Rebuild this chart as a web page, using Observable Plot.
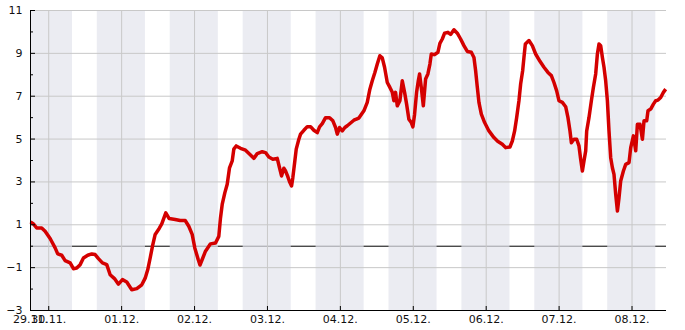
<!DOCTYPE html>
<html>
<head>
<meta charset="utf-8">
<script src="https://cdn.jsdelivr.net/npm/d3@7"></script>
<script src="https://cdn.jsdelivr.net/npm/@observablehq/plot@0.6"></script>
<style>
  html, body { margin: 0; padding: 0; background: #fff; }
  #chart svg { display: block; }
</style>
</head>
<body>
<div id="chart"></div>
<script>
// Hours since 30.11. 00:00 (UTC used for display)
const hours = [-6.0,-5.04,-3.95,-2.31,-1.19,0.46,2.11,2.96,4.28,5.40,7.05,8.13,9.22,10.34,11.43,12.84,14.16,15.28,16.37,17.68,19.10,20.22,21.64,22.95,24.27,25.69,27.33,28.98,30.63,31.75,32.60,33.39,34.15,35.04,36.36,37.21,38.53,39.65,41.63,43.27,44.92,46.10,47.22,48.08,49.20,49.79,50.52,51.60,53.25,54.90,55.98,56.54,57.10,57.96,58.75,59.51,60.40,60.92,61.71,63.13,64.78,66.42,67.51,68.63,70.28,71.36,72.45,73.77,75.22,75.97,76.63,77.39,77.95,78.61,79.27,79.93,80.35,81.01,81.47,82.33,82.89,83.98,85.10,86.18,87.27,88.39,89.15,90.04,91.12,92.44,93.53,94.42,94.98,95.73,96.62,97.48,98.27,100.44,102.09,103.74,104.85,105.71,106.50,107.36,108.15,109.00,109.79,110.55,111.44,112.30,113.09,113.61,114.17,114.73,115.59,116.38,117.14,117.80,118.55,119.34,119.87,120.43,121.09,121.65,122.08,122.64,123.30,124.05,124.81,125.47,125.93,127.02,128.10,128.76,129.55,130.31,131.40,132.29,133.38,134.49,135.58,136.67,137.79,139.10,139.97,140.52,141.08,141.61,142.40,143.48,144.90,146.55,147.77,149.31,150.40,151.81,152.60,153.36,154.02,154.78,155.34,156.00,156.43,156.89,158.07,159.19,160.28,161.70,163.02,164.33,165.45,166.31,167.20,167.95,169.07,170.16,170.92,171.58,172.04,172.90,173.78,174.54,175.10,175.66,176.19,176.75,177.08,177.83,178.62,179.28,180.04,180.60,181.13,181.69,182.25,182.78,183.33,183.89,184.42,184.98,185.54,186.07,186.63,187.19,187.72,188.27,189.16,189.92,191.01,191.57,192.46,193.21,193.77,194.63,195.42,195.95,196.83,197.26,198.15,199.04,199.79,200.55,201.44,202.33,203.09];
const temps = [1.14,1.04,0.85,0.85,0.70,0.36,-0.08,-0.36,-0.42,-0.67,-0.78,-1.05,-1.02,-0.86,-0.55,-0.42,-0.36,-0.39,-0.58,-0.78,-0.86,-1.33,-1.51,-1.77,-1.56,-1.67,-2.03,-1.98,-1.80,-1.49,-1.09,-0.55,0.0,0.55,0.83,1.04,1.56,1.29,1.25,1.20,1.20,0.93,0.55,-0.08,-0.62,-0.88,-0.62,-0.23,0.11,0.15,0.46,1.32,1.95,2.49,2.89,3.66,3.98,4.53,4.68,4.57,4.48,4.26,4.10,4.32,4.41,4.37,4.16,4.06,4.10,3.66,3.28,3.64,3.51,3.28,3.01,2.81,3.20,3.98,4.53,4.99,5.23,5.41,5.58,5.58,5.41,5.30,5.57,5.72,6.00,6.00,5.85,5.54,5.23,5.54,5.38,5.54,5.62,5.88,5.98,6.32,6.71,7.33,7.72,8.11,8.50,8.89,8.79,8.35,7.64,7.41,7.18,6.79,7.18,6.55,6.79,7.72,7.18,6.63,5.93,5.77,5.57,6.16,7.18,7.72,8.04,7.41,6.55,7.80,8.04,8.50,8.97,8.94,9.05,9.47,9.67,9.94,9.98,9.88,10.10,9.94,9.67,9.36,9.09,9.05,8.81,8.19,7.41,6.71,6.16,5.77,5.38,5.07,4.90,4.76,4.60,4.63,4.91,5.38,6.00,6.79,7.57,8.19,8.81,9.44,9.60,9.36,8.97,8.63,8.35,8.11,7.96,7.64,7.25,6.79,6.71,6.51,6.00,5.38,4.83,4.99,4.99,4.68,4.06,3.51,3.98,4.45,5.38,6.00,6.79,7.41,8.04,8.97,9.44,9.36,8.81,8.35,7.72,6.79,5.38,4.13,3.66,3.35,2.42,1.64,2.26,3.04,3.51,3.82,3.90,4.60,5.15,4.45,5.69,5.69,4.99,5.85,5.85,6.32,6.40,6.63,6.79,6.82,6.94,7.18,7.33];

// Night (shaded) periods: start hour (since 30.11. 00:00) and length in hours
const nightStarts = [-8, 16, 40, 64, 88, 112, 136, 160, 184];
const nightLength = 15.83;

// Axis values
const yMajor = [-3, -1, 1, 3, 5, 7, 9, 11];
const yMinor = [-2, 0, 2, 4, 6, 8, 10];
const startHour = -6;
const endHour = 203.35;

const base = Date.UTC(2023, 10, 30);
const toDate = h => new Date(base + h * 3600e3);

const data = hours.map((h, i) => ({t: toDate(h), v: temps[i]}));
const nights = nightStarts.map(s => ({a: toDate(s), b: toDate(s + nightLength)}));
const x0 = toDate(startHour), x1 = toDate(endHour);
const days = d3.utcDay.range(toDate(0), x1);
const fmt = d3.utcFormat("%d.%m.");

const chart = Plot.plot({
  width: 685,
  height: 330,
  marginLeft: 30,
  marginRight: 19,
  marginTop: 10,
  marginBottom: 20,
  style: {fontFamily: "DejaVu Sans", fontSize: "11px", color: "#111", background: "#fff"},
  x: {type: "utc", domain: [x0, x1], label: null},
  y: {domain: [-3, 11], label: null},
  marks: [
    Plot.ruleY([0], {stroke: "#000", strokeWidth: 1}),
    Plot.rectX(nights, {x1: "a", x2: "b", y1: -3, y2: 11, fill: "#e2e4ec", fillOpacity: 0.7, clip: true}),
    Plot.ruleY(yMajor, {stroke: "#c8c8c8", strokeWidth: 1}),
    Plot.ruleX(days, {stroke: "#c8c8c8", strokeWidth: 1}),
    Plot.line(data, {x: "t", y: "v", stroke: "#d40000", strokeWidth: 3.5, strokeLinejoin: "round", strokeLinecap: "butt"}),
    Plot.ruleX([x0], {stroke: "#000", strokeWidth: 1}),
    Plot.ruleY([-3], {stroke: "#000", strokeWidth: 1}),
    // y ticks (inward)
    Plot.axisY({ticks: yMajor, tickSize: 5, dx: 5, text: null, label: null, stroke: "#000"}),
    Plot.axisY({ticks: yMinor, tickSize: 3, dx: 3, text: null, label: null, stroke: "#000"}),
    Plot.axisY({ticks: yMajor, tickSize: 0, tickPadding: 8, label: null, fill: "#111"}),
    // x ticks (inward)
    Plot.axisX({ticks: days, tickSize: 4, dy: -4, text: null, label: null, stroke: "#000"}),
    Plot.axisX({ticks: [x0, ...days], tickSize: 0, tickPadding: 5, tickFormat: fmt, label: null, fill: "#111"})
  ]
});
document.getElementById("chart").appendChild(chart);
</script>
</body>
</html>
